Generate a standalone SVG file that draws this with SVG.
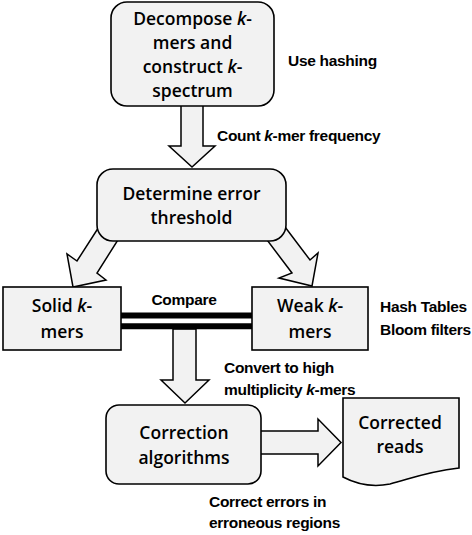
<svg xmlns="http://www.w3.org/2000/svg" width="472" height="535" viewBox="0 0 472 535">
<style>
.box{fill:#F2F2F2;stroke:#000;stroke-width:1.6}
.arr{fill:#F2F2F2;stroke:#000;stroke-width:1.5;stroke-linejoin:miter}
.t{font-family:"Open Sans","Noto Sans",sans-serif;font-size:17.5px;font-weight:600;text-anchor:middle;fill:#000}
.l{font-family:"Liberation Sans",Arial,sans-serif;font-size:15.5px;font-weight:bold;letter-spacing:-0.3px;fill:#000}
.i{font-style:italic}
.bar{stroke:#000;stroke-width:6}
</style>
<rect width="472" height="535" fill="#fff"/>
<g id="connectors">
<polygon class="arr" points="181,105 203,105 203,146 215,146 192,167 169,146 181,146"/>
<polygon class="arr" points="104,219 77,261 67,254 73,287 106,280 97,273 123,232"/>
<polygon class="arr" points="279,219 310,260 318,253 312,286 279,278 292,273 261,232"/>
<polygon class="arr" points="173,329 196,329 196,380 209,380 185,403 161,380 173,380"/>
<polygon class="arr" points="260,431 318,431 318,419 341,442.5 318,466 318,454 260,454"/>
<line class="bar" x1="121" y1="315.5" x2="252" y2="315.5"/>
<line class="bar" x1="121" y1="326.3" x2="252" y2="326.3"/>
</g>
<g id="decompose">
<rect class="box" x="111" y="2" width="163" height="104" rx="16"/>
<text class="t" x="192.5" y="25">Decompose <tspan class="i">k</tspan>-</text>
<text class="t" x="192.5" y="49">mers and</text>
<text class="t" x="192.5" y="73">construct <tspan class="i">k</tspan>-</text>
<text class="t" x="192.5" y="97">spectrum</text>
</g>
<g id="threshold">
<rect class="box" x="97" y="169" width="189" height="72" rx="16"/>
<text class="t" x="191.5" y="199.5">Determine error</text>
<text class="t" x="191.5" y="223.5">threshold</text>
</g>
<g id="solid">
<rect class="box" x="3" y="287" width="118" height="63"/>
<text class="t" x="62" y="312">Solid <tspan class="i">k</tspan>-</text>
<text class="t" x="62" y="338">mers</text>
</g>
<g id="weak">
<rect class="box" x="252" y="287" width="116" height="63"/>
<text class="t" x="310" y="312">Weak <tspan class="i">k</tspan>-</text>
<text class="t" x="310" y="338">mers</text>
</g>
<g id="correction">
<rect class="box" x="106" y="405" width="155" height="79" rx="13"/>
<text class="t" x="184" y="438.5">Correction</text>
<text class="t" x="184" y="463.5">algorithms</text>
</g>
<g id="corrected">
<path class="box" d="M343,398 H459 V468 C425,472 410,479 390,484 C375,487 360,486 343,477 Z"/>
<text class="t" x="400" y="428.5">Corrected</text>
<text class="t" x="400" y="453">reads</text>
</g>
<g id="labels">
<text class="l" x="288" y="66">Use hashing</text>
<text class="l" x="217" y="141">Count <tspan class="i">k</tspan>-mer frequency</text>
<text class="l" x="184" y="305" text-anchor="middle">Compare</text>
<text class="l" x="380" y="311.5">Hash Tables</text>
<text class="l" x="380" y="335">Bloom filters</text>
<text class="l" x="224" y="373">Convert to high</text>
<text class="l" x="224" y="395">multiplicity <tspan class="i">k</tspan>-mers</text>
<text class="l" x="209" y="506.5">Correct errors in</text>
<text class="l" x="209" y="528">erroneous regions</text>
</g>
</svg>
